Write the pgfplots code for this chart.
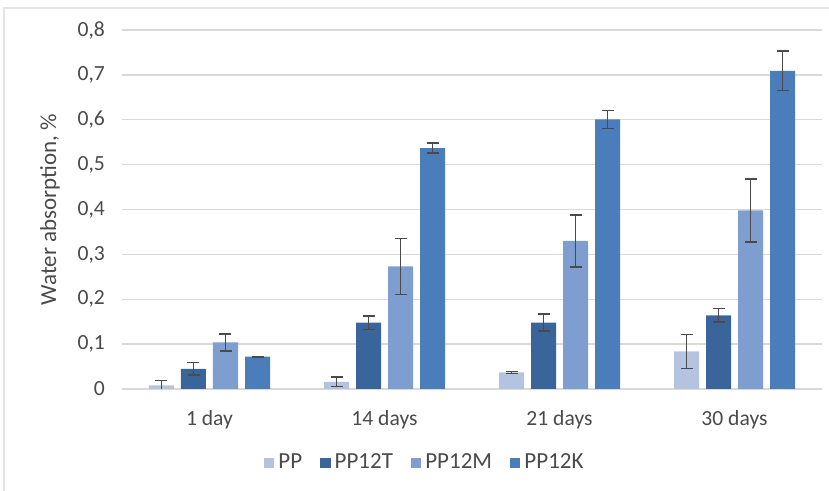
\documentclass[border=0pt]{standalone}
\usepackage{pgfplots}
\pgfplotsset{compat=1.18}
\usepackage{pgfplotstable}
\usepackage{fontspec}
\setmainfont{Carlito}

\definecolor{cPP}{HTML}{B4C4E0}
\definecolor{cT}{HTML}{3A659A}
\definecolor{cM}{HTML}{7E9ECF}
\definecolor{cK}{HTML}{4A7DBA}
\definecolor{txt}{HTML}{4A4A4A}
\definecolor{grd}{HTML}{D9D9D9}

% x: 0 = 1 day, 1 = 14 days, 2 = 21 days, 3 = 30 days
\pgfplotstableread{
x y err
0 0.008 0.011
1 0.016 0.011
2 0.037 0.002
3 0.084 0.038
}\tPP
\pgfplotstableread{
x y err
0 0.045 0.014
1 0.148 0.015
2 0.148 0.019
3 0.164 0.015
}\tT
\pgfplotstableread{
x y err
0 0.104 0.019
1 0.273 0.063
2 0.330 0.058
3 0.398 0.070
}\tM
\pgfplotstableread{
x y err
0 0.072 0.001
1 0.537 0.011
2 0.601 0.020
3 0.709 0.044
}\tK

\begin{document}
\begin{tikzpicture}[font=\fontsize{10.8}{13}\selectfont]
\useasboundingbox (-61pt,-51pt) rectangle (353.5pt,194.5pt);
\draw[grd!70, line width=0.6pt] (-59pt,-51pt) -- (-59pt,190.5pt) -- (353.5pt,190.5pt);
\begin{axis}[
    at={(0pt,0pt)}, anchor=south west,
    scale only axis,
    width=350pt, height=179.5pt,
    ybar=3.5pt, bar width=12.5pt,
    xmin=-0.5, xmax=3.5,
    ymin=0, ymax=0.8,
    xtick=data,
    xticklabels={1 day, 14 days, 21 days, 30 days},
    ytick={0,0.1,...,0.8},
    /pgf/number format/use comma,
    /pgf/number format/assume math mode=true,
    yticklabel style={/pgf/number format/fixed},
    ymajorgrids=true,
    grid style={grd, line width=0.7pt},
    axis line style={draw=none},
    major tick length=0pt,
    tick label style={text=txt},
    yticklabel style={xshift=-5pt},
    xticklabel style={yshift=-7pt},
    ylabel={Water absorption, \%},
    ylabel style={text=txt, font=\fontsize{11.5}{13}\selectfont,
        at={(axis description cs:-0.103,0.5)}, anchor=center},
    legend columns=4,
    legend style={at={(axis description cs:0.434,-0.206)}, anchor=center,
        draw=none, font=\fontsize{11.5}{13}\selectfont, text=txt,
        /tikz/every even column/.append style={column sep=7pt}},
    legend image code/.code={\fill[#1] (0pt,-2.6pt) rectangle (5.2pt,2.6pt);},
    error bars/error bar style={color=txt, line width=0.7pt},
    error bars/error mark options={rotate=90, mark size=3pt, line width=0.7pt, color=txt},
]
\addplot[fill=cPP, draw=none, error bars/.cd, y dir=both, y explicit]
    table[x=x, y=y, y error=err]{\tPP};
\addplot[fill=cT, draw=none, error bars/.cd, y dir=both, y explicit]
    table[x=x, y=y, y error=err]{\tT};
\addplot[fill=cM, draw=none, error bars/.cd, y dir=both, y explicit]
    table[x=x, y=y, y error=err]{\tM};
\addplot[fill=cK, draw=none, error bars/.cd, y dir=both, y explicit]
    table[x=x, y=y, y error=err]{\tK};
\legend{PP, PP12T, PP12M, PP12K}
\end{axis}
\end{tikzpicture}
\end{document}
